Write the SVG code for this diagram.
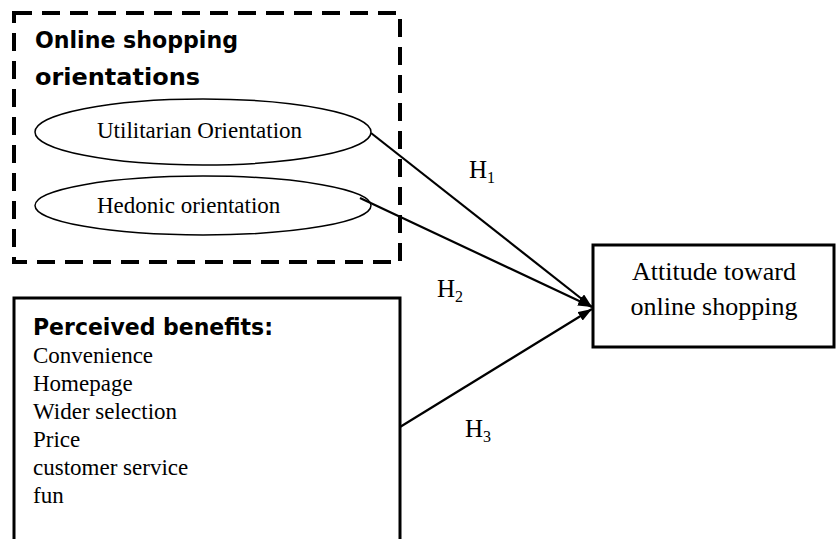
<svg xmlns="http://www.w3.org/2000/svg" width="836" height="539" viewBox="0 0 836 539">
<style>
.head{font-family:"DejaVu Sans","Liberation Sans",sans-serif;font-weight:bold;font-size:22.5px;fill:#000}
.t{font-family:"Liberation Serif","Times New Roman",serif;font-size:23px;fill:#000}
.big{font-family:"Liberation Serif","Times New Roman",serif;font-size:26px;fill:#000}
.h{font-family:"Liberation Serif","Times New Roman",serif;font-size:25px;fill:#000}
.sub{font-size:16px}
.edge{stroke:#000;stroke-width:2.2;fill:none}
</style>
<defs>
<marker id="arr" viewBox="0 0 14 10" refX="14" refY="5" markerWidth="14" markerHeight="10" markerUnits="userSpaceOnUse" orient="auto">
<path d="M0,0 L14,5 L0,10 Z" fill="#000"/>
</marker>
</defs>
<rect width="836" height="539" fill="#fff"/>
<g id="orientations">
<rect x="14" y="13" width="386" height="249" fill="none" stroke="#000" stroke-width="4" stroke-dasharray="18 10"/>
<text class="head" x="35" y="48" textLength="203" lengthAdjust="spacingAndGlyphs">Online shopping</text>
<text class="head" x="35" y="85" textLength="165" lengthAdjust="spacingAndGlyphs">orientations</text>
</g>
<g id="utilitarian">
<ellipse cx="203" cy="132" rx="168" ry="33" fill="#fff" stroke="#000" stroke-width="1.5"/>
<text class="t" x="97" y="138">Utilitarian Orientation</text>
</g>
<g id="hedonic">
<ellipse cx="203" cy="205.5" rx="168" ry="29.5" fill="#fff" stroke="#000" stroke-width="1.5"/>
<text class="t" x="97" y="213">Hedonic orientation</text>
</g>
<g id="benefits">
<rect x="14" y="298" width="386" height="260" fill="#fff" stroke="#000" stroke-width="3"/>
<text class="head" x="33" y="335" textLength="240" lengthAdjust="spacingAndGlyphs">Perceived benefits:</text>
<text class="t" x="33" y="363">Convenience</text>
<text class="t" x="33" y="391">Homepage</text>
<text class="t" x="33" y="419">Wider selection</text>
<text class="t" x="33" y="447">Price</text>
<text class="t" x="33" y="475">customer service</text>
<text class="t" x="33" y="503">fun</text>
</g>
<g id="attitude">
<rect x="593" y="245" width="241" height="102" fill="#fff" stroke="#000" stroke-width="3"/>
<text class="big" x="714" y="280" text-anchor="middle">Attitude toward</text>
<text class="big" x="714" y="315" text-anchor="middle">online shopping</text>
</g>
<g id="connectors">
<line class="edge" x1="371" y1="133" x2="592" y2="307" marker-end="url(#arr)"/>
<line class="edge" x1="360" y1="198" x2="592" y2="307" marker-end="url(#arr)"/>
<line class="edge" x1="400" y1="427" x2="592" y2="309" marker-end="url(#arr)"/>
<text class="h" x="469" y="178">H<tspan class="sub" dy="5">1</tspan></text>
<text class="h" x="437" y="297">H<tspan class="sub" dy="5">2</tspan></text>
<text class="h" x="465" y="437">H<tspan class="sub" dy="5">3</tspan></text>
</g>
</svg>
